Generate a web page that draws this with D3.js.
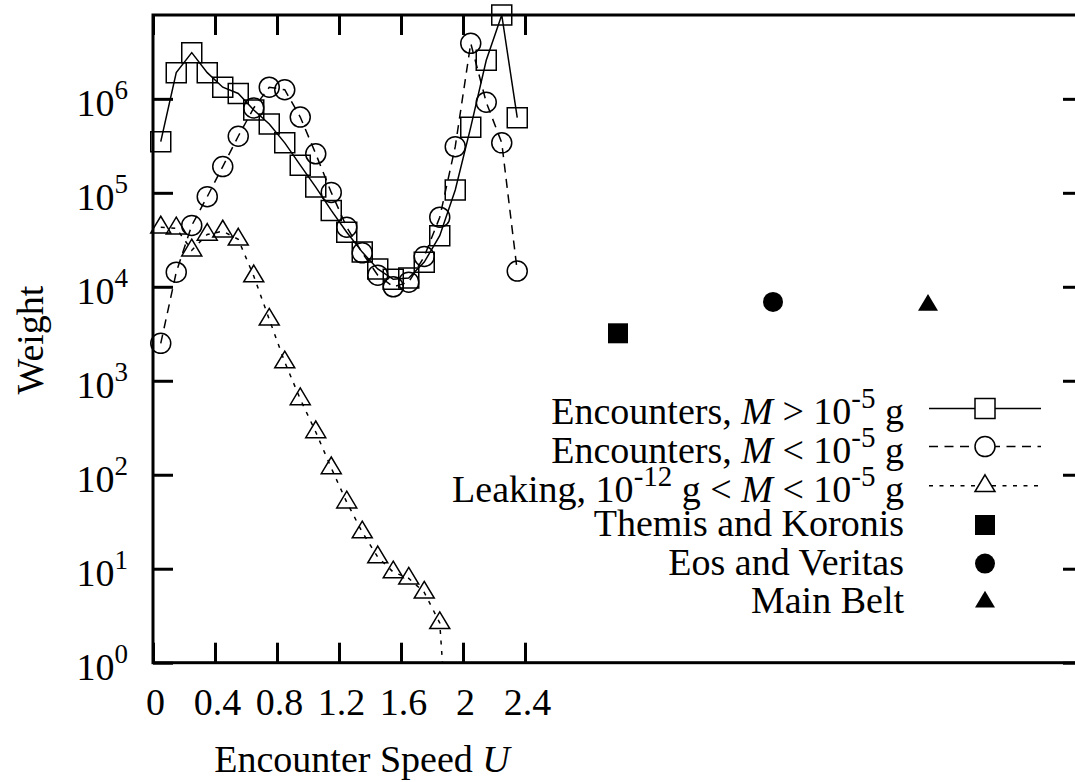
<!DOCTYPE html>
<html>
<head>
<meta charset="utf-8">
<script src="https://cdn.jsdelivr.net/npm/d3@7"></script>
<style>
  html, body { margin: 0; padding: 0; background: #fff; }
  svg { display: block; }
  text { font-family: "Liberation Serif", "Times New Roman", serif; fill: #000; }
</style>
</head>
<body>
<svg id="chart" width="1075" height="782"></svg>
<script>
// Encounter-speed bins (bin centres)
const speedBins = [0.05, 0.15, 0.25, 0.35, 0.45, 0.55, 0.65, 0.75, 0.85, 0.95, 1.05, 1.15,
                   1.25, 1.35, 1.45, 1.55, 1.65, 1.75, 1.85, 1.95, 2.05, 2.15, 2.25, 2.35];

// Encounters, M > 1e-5 g
const heavyWeights = [3.5e5, 1.9e6, 3.1e6, 1.9e6, 1.33e6, 1.14e6, 7.6e5, 5.4e5, 3.4e5, 1.97e5, 1.15e5, 6.5e4,
                      3.8e4, 2.34e4, 1.55e4, 1.2e4, 1.24e4, 1.83e4, 3.5e4, 1.07e5, 5.0e5, 2.57e6, 7.8e6, 6.3e5];

// Encounters, M < 1e-5 g
const lightWeights = [2.5e3, 1.43e4, 4.5e4, 9.1e4, 1.9e5, 4.0e5, 8.0e5, 1.33e6, 1.25e6, 6.4e5, 2.6e5, 1.01e5,
                      4.3e4, 2.3e4, 1.33e4, 1.0e4, 1.12e4, 2.1e4, 5.5e4, 3.1e5, 3.9e6, 9.2e5, 3.4e5, 1.47e4];

// Leaking, 1e-12 g < M < 1e-5 g (first 20 bins)
const leakWeights = [4.3e4, 4.2e4, 2.45e4, 3.6e4, 3.9e4, 3.2e4, 1.3e4, 4.5e3, 1.58e3, 640, 285, 118,
                     51, 24.5, 13.3, 9.2, 7.9, 5.6, 2.65, 0.01];

// Asteroid families
const familyNames = ["Themis and Koronis", "Eos and Veritas", "Main Belt"];
const familySpeeds = [3.0, 4.0, 5.0];
const familyWeights = [3.2e3, 6.9e3, 6.4e3];

// Axis ticks
const xTickValues = [0, 0.4, 0.8, 1.2, 1.6, 2.0, 2.4];
const xTickLabels = ["0", "0.4", "0.8", "1.2", "1.6", "2", "2.4"];
const yTickExponents = [0, 1, 2, 3, 4, 5, 6];

const svg = d3.select("#chart");
const plotLeft = 153, plotRight = 1083, plotTop = 15, plotBottom = 662.7;
const fontSize = 38, supSize = 29, supRise = 16;

const x = d3.scaleLinear().domain([0, 6]).range([plotLeft, plotRight]);
const y = d3.scaleLog().domain([1, 7.8e6]).range([plotBottom, plotTop]);

svg.append("defs").append("clipPath").attr("id", "plotClip")
  .append("rect").attr("x", plotLeft).attr("y", plotTop)
  .attr("width", plotRight - plotLeft).attr("height", plotBottom - plotTop);

// Marker shapes centred on (0,0)
function markerPath(kind) {
  const p = d3.path();
  if (kind === "square") {
    p.rect(-10, -10, 20, 20);
  } else if (kind === "circle") {
    p.moveTo(10, 0);
    p.arc(0, 0, 10, 0, 2 * Math.PI);
    p.closePath();
  } else {
    p.moveTo(0, -11);
    p.lineTo(10, 5.7);
    p.lineTo(-10, 5.7);
    p.closePath();
  }
  return p.toString();
}

const series = [
  { values: heavyWeights, marker: "square", dash: null },
  { values: lightWeights, marker: "circle", dash: "9,6.5" },
  { values: leakWeights, marker: "triangle", dash: "4,6.5" }
];

const line = d3.line().x(d => x(d[0])).y(d => y(d[1]));
const plot = svg.append("g");

series.forEach(s => {
  const pts = s.values.map((v, i) => [speedBins[i], v]);
  plot.append("path")
    .attr("clip-path", "url(#plotClip)")
    .attr("d", line(pts))
    .attr("fill", "none")
    .attr("stroke", "#000")
    .attr("stroke-width", 1.5)
    .attr("stroke-dasharray", s.dash);
  plot.selectAll(null)
    .data(pts.filter(d => d[1] >= 1))
    .enter().append("path")
    .attr("transform", d => `translate(${x(d[0])},${y(d[1])})`)
    .attr("d", markerPath(s.marker))
    .attr("fill", "none")
    .attr("stroke", "#000")
    .attr("stroke-width", 1.5);
});

const familyMarkers = ["square", "circle", "triangle"];
plot.selectAll(null)
  .data(familySpeeds.map((u, i) => [u, familyWeights[i], familyMarkers[i]]))
  .enter().append("path")
  .attr("transform", d => `translate(${x(d[0])},${y(d[1])})`)
  .attr("d", d => markerPath(d[2]))
  .attr("fill", "#000");

// Axes: inward ticks on all four sides
const xAxis = svg.append("g")
  .attr("transform", `translate(0,${plotBottom})`)
  .call(d3.axisBottom(x).tickValues(xTickValues).tickSizeInner(-20).tickSizeOuter(0)
    .tickPadding(25).tickFormat((d, i) => xTickLabels[i]));
xAxis.select(".domain").remove();
xAxis.selectAll(".tick line").attr("stroke-width", 3);
xAxis.selectAll(".tick text").attr("font-size", fontSize)
  .attr("font-family", "Liberation Serif").attr("dx", 2);

const topAxis = svg.append("g")
  .attr("transform", `translate(0,${plotTop})`)
  .call(d3.axisTop(x).tickValues(xTickValues).tickSizeInner(-20).tickSizeOuter(0).tickFormat(""));
topAxis.select(".domain").remove();
topAxis.selectAll(".tick line").attr("stroke-width", 3);

const yTicks = yTickExponents.map(e => Math.pow(10, e));
const yAxis = svg.append("g")
  .attr("transform", `translate(${plotLeft},0)`)
  .call(d3.axisLeft(y).tickValues(yTicks).tickSizeInner(-20).tickSizeOuter(0).tickFormat(""));
yAxis.select(".domain").remove();
yAxis.selectAll(".tick line").attr("stroke-width", 3);
yAxis.selectAll(".tick").each(function(d) {
  const t = d3.select(this).append("text")
    .attr("x", -25).attr("y", 17)
    .attr("text-anchor", "end")
    .attr("font-size", fontSize)
    .attr("font-family", "Liberation Serif");
  t.append("tspan").text("10");
  t.append("tspan").attr("font-size", 27).attr("dy", -supRise - 1)
    .text(String(Math.round(Math.log10(d))));
});

const rightAxis = svg.append("g")
  .attr("transform", `translate(${plotRight},0)`)
  .call(d3.axisRight(y).tickValues(yTicks).tickSizeInner(-20).tickSizeOuter(0).tickFormat(""));
rightAxis.select(".domain").remove();
rightAxis.selectAll(".tick line").attr("stroke-width", 3);

// Plot border
svg.append("rect")
  .attr("x", plotLeft).attr("y", plotTop)
  .attr("width", plotRight - plotLeft).attr("height", plotBottom - plotTop)
  .attr("fill", "none").attr("stroke", "#000").attr("stroke-width", 3);

// Axis titles
const xl = svg.append("text")
  .attr("x", 362).attr("y", 772)
  .attr("text-anchor", "middle").attr("font-size", fontSize);
xl.append("tspan").text("Encounter Speed ");
xl.append("tspan").attr("font-style", "italic").text("U");

svg.append("text")
  .attr("transform", "translate(43,340) rotate(-90)")
  .attr("text-anchor", "middle").attr("font-size", fontSize)
  .text("Weight");

// Legend
const legendRowY = [408.4, 446.6, 485.8, 525, 563.6, 601.8];
const legendTextX = 904, legendLineX0 = 929, legendLineX1 = 1041, legendMarkX = 985;

function addParts(textSel, parts) {
  let raised = false;
  parts.forEach(p => {
    const ts = textSel.append("tspan").text(p.t);
    if (p.i) ts.attr("font-style", "italic");
    if (p.sup) {
      ts.attr("font-size", supSize).attr("dy", -supRise);
      raised = true;
    } else if (raised) {
      ts.attr("dy", supRise);
      raised = false;
    }
  });
}

const legendTexts = [
  [{ t: "Encounters, " }, { t: "M", i: true }, { t: " > 10" }, { t: "-5", sup: true }, { t: " g" }],
  [{ t: "Encounters, " }, { t: "M", i: true }, { t: " < 10" }, { t: "-5", sup: true }, { t: " g" }],
  [{ t: "Leaking, 10" }, { t: "-12", sup: true }, { t: " g < " }, { t: "M", i: true }, { t: " < 10" }, { t: "-5", sup: true }, { t: " g" }],
  [{ t: familyNames[0] }],
  [{ t: familyNames[1] }],
  [{ t: familyNames[2] }]
];
const legendBaseline = [16, 16, 16, 11, 11, 11];

const legend = svg.append("g");
legendTexts.forEach((parts, i) => {
  const t = legend.append("text")
    .attr("x", legendTextX).attr("y", legendRowY[i] + legendBaseline[i])
    .attr("text-anchor", "end").attr("font-size", fontSize);
  addParts(t, parts);
});

series.forEach((s, i) => {
  legend.append("line")
    .attr("x1", legendLineX0).attr("x2", legendLineX1)
    .attr("y1", legendRowY[i]).attr("y2", legendRowY[i])
    .attr("stroke", "#000").attr("stroke-width", 1.5)
    .attr("stroke-dasharray", s.dash);
  legend.append("path")
    .attr("transform", `translate(${legendMarkX},${legendRowY[i]})`)
    .attr("d", markerPath(s.marker))
    .attr("fill", "#fff").attr("stroke", "#000").attr("stroke-width", 1.5);
});
familyMarkers.forEach((m, i) => {
  legend.append("path")
    .attr("transform", `translate(${legendMarkX},${legendRowY[i + 3]})`)
    .attr("d", markerPath(m))
    .attr("fill", "#000");
});
</script>
</body>
</html>
